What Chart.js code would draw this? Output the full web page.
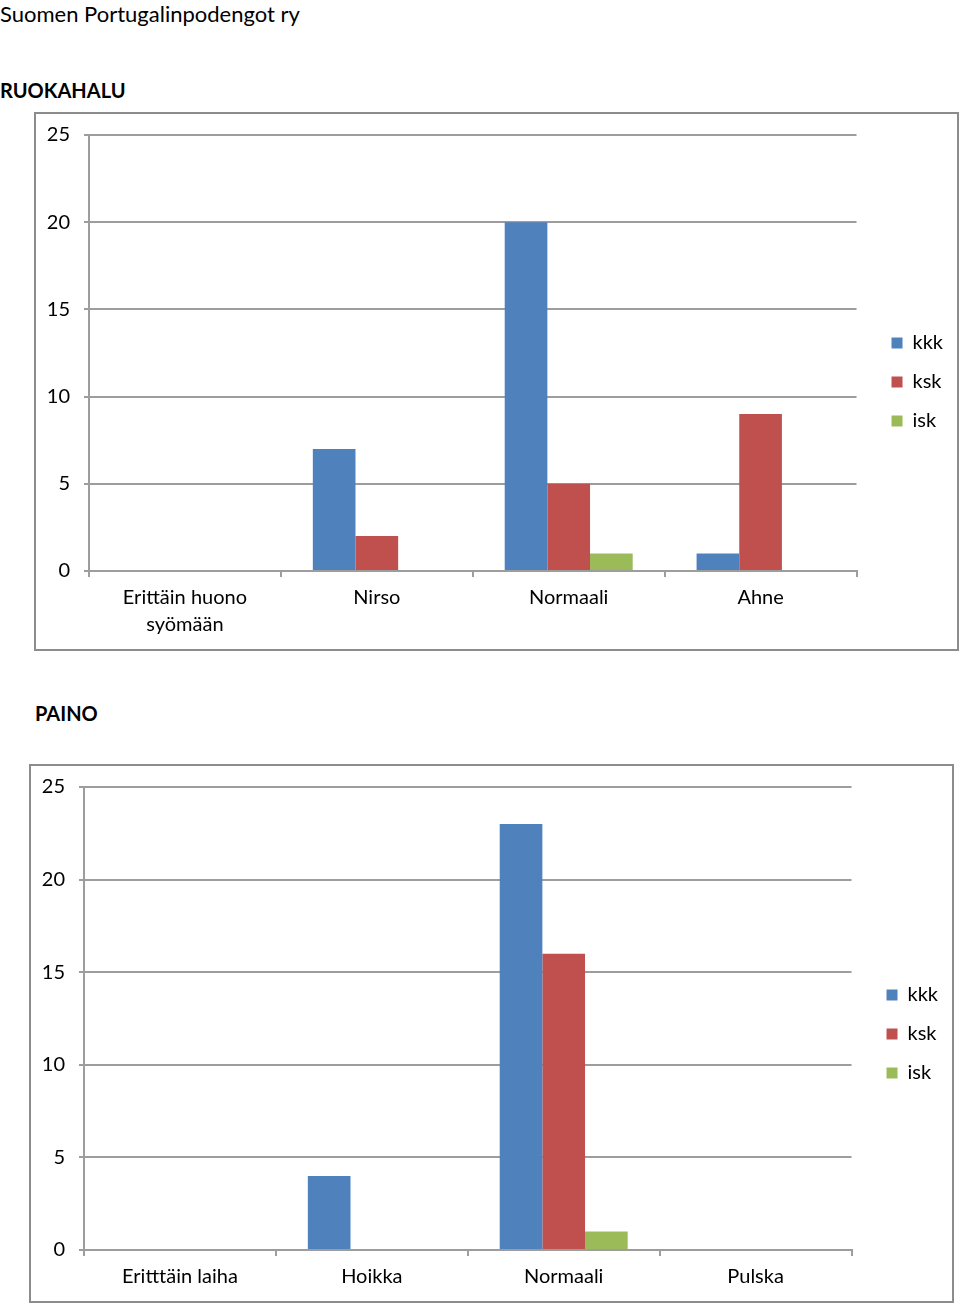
<!DOCTYPE html>
<html>
<head>
<meta charset="utf-8">
<script src="https://cdn.jsdelivr.net/npm/chart.js@4"></script>
<style>
  body { margin: 0; background: #fff; font-family: Lato, sans-serif; color: #000; }
  .page { position: relative; width: 960px; height: 1305px; }
  .title { position: absolute; left: 0; top: 0; font-size: 22px; }
  .heading { position: absolute; font-size: 20px; font-weight: bold; }
  .box { position: absolute; width: 925px; height: 539px; box-sizing: border-box; border: 2px solid #8c8c8c; }
  .box canvas { display: block; }
</style>
</head>
<body>
<div class="page">
  <div class="title">Suomen Portugalinpodengot ry</div>
  <div class="heading" style="left:0; top:78px;">RUOKAHALU</div>
  <div class="box" style="left:34px; top:112px;"><canvas id="chart1" width="921" height="535"></canvas></div>
  <div class="heading" style="left:35px; top:701px;">PAINO</div>
  <div class="box" style="left:29px; top:764px;"><canvas id="chart2" width="921" height="535"></canvas></div>
</div>
<script>
const seriesNames = ['kkk', 'ksk', 'isk'];
const seriesColors = ['#4f81bd', '#c0504d', '#9bbb59'];

const appetiteLabels = [['Erittäin huono', 'syömään'], 'Nirso', 'Normaali', 'Ahne'];
const appetiteKkk = [0, 7, 20, 1];
const appetiteKsk = [0, 2, 5, 9];
const appetiteIsk = [0, 0, 1, 0];

const weightLabels = ['Eritttäin laiha', 'Hoikka', 'Normaali', 'Pulska'];
const weightKkk = [0, 4, 23, 0];
const weightKsk = [0, 0, 16, 0];
const weightIsk = [0, 0, 1, 0];

const yTicks = [0, 5, 10, 15, 20, 25];

Chart.defaults.font.family = 'Lato, sans-serif';
Chart.defaults.font.size = 20;
Chart.defaults.color = '#000';

const gridColor = '#9d9d9d';

// nudge the legend so it sits like the original (gap from the plot, centred in the box)
const legendNudge = {
  id: 'legendNudge',
  afterLayout(chart) {
    const lg = chart.legend;
    if (!lg) return;
    lg.left += 16; lg.right += 16;
    lg.top -= 8; lg.bottom -= 8;
  },
};

function makeChart(canvasId, labels, values) {
  return new Chart(document.getElementById(canvasId), {
    type: 'bar',
    data: {
      labels: labels,
      datasets: values.map((vals, i) => ({
        label: seriesNames[i],
        data: vals,
        backgroundColor: seriesColors[i],
        borderWidth: 0,
        categoryPercentage: 0.667,
        barPercentage: 1,
      })),
    },
    plugins: [legendNudge],
    options: {
      responsive: false,
      animation: false,
      layout: { padding: { left: 0, top: 21, right: 20, bottom: 4 } },
      plugins: {
        tooltip: { enabled: false },
        legend: {
          position: 'right',
          labels: { boxWidth: 11, boxHeight: 11, padding: 19, font: { size: 20 } },
        },
      },
      scales: {
        x: {
          afterFit: axis => { axis.paddingLeft = 0; axis.paddingRight = 0; },
          grid: { offset: true, drawOnChartArea: false, drawTicks: true, tickLength: 6, color: gridColor, lineWidth: 2 },
          border: { color: gridColor, width: 2 },
          ticks: { padding: 7, maxRotation: 0, autoSkip: false, font: { size: 20, lineHeight: 1.35 } },
        },
        y: {
          min: yTicks[0],
          max: yTicks[yTicks.length - 1],
          afterBuildTicks: axis => { axis.ticks = yTicks.map(v => ({ value: v })); },
          afterFit: axis => { axis.width = 53; axis.paddingTop = 0; axis.paddingBottom = 0; },
          grid: { color: gridColor, lineWidth: 2, tickLength: 5 },
          border: { color: gridColor, width: 2 },
          ticks: { padding: 14 },
        },
      },
    },
  });
}

makeChart('chart1', appetiteLabels, [appetiteKkk, appetiteKsk, appetiteIsk]);
makeChart('chart2', weightLabels, [weightKkk, weightKsk, weightIsk]);
</script>
</body>
</html>
